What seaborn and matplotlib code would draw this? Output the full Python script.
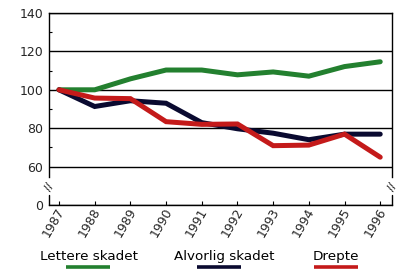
import matplotlib
matplotlib.use("Agg")
import matplotlib.pyplot as plt
import matplotlib.transforms as mtransforms
from matplotlib.lines import Line2D
import seaborn as sns
import pandas as pd

years = [1987, 1988, 1989, 1990, 1991, 1992, 1993, 1994, 1995, 1996]
lettere = [100, 100, 105.7, 110.3, 110.3, 107.8, 109.3, 107.1, 112.1, 114.6]
alvorlig = [100, 91.3, 94.3, 93.0, 82.9, 79.7, 77.4, 74.0, 76.9, 76.9]
drepte = [100, 95.7, 95.4, 83.4, 82.0, 82.2, 70.9, 71.2, 76.9, 64.9]
series_names = ["Lettere skadet", "Alvorlig skadet", "Drepte"]
colors = ["#23802f", "#0a0a30", "#c41a1a"]
yticks = [40, 60, 80, 100, 120, 140]
ytick_labels = ["0", "60", "80", "100", "120", "140"]
minor_yticks = [70, 90, 110, 130]

rows = []
for name, vals in zip(series_names, [lettere, alvorlig, drepte]):
    for i, (yr, v) in enumerate(zip(years, vals)):
        rows.append({"pos": i, "year": yr, "value": v, "series": name})
df = pd.DataFrame(rows)

sns.set_style("white")
plt.rcParams["font.family"] = ["DejaVu Sans"]

fig = plt.figure(figsize=(4, 2.79), dpi=100)
ax = fig.add_axes([49 / 400, (279 - 205) / 279, 343 / 400, 192 / 279])

sns.lineplot(data=df, x="pos", y="value", hue="series", hue_order=series_names,
             palette=colors, linewidth=3.6, legend=False, ax=ax,
             solid_joinstyle="miter")

ax.set_xlim(-0.28, 9.33)
ax.set_ylim(40, 140)
ax.set_xlabel("")
ax.set_ylabel("")

ax.set_yticks(yticks)
ax.set_yticklabels(ytick_labels, fontsize=9)
ax.set_yticks(minor_yticks, minor=True)
ax.tick_params(axis="y", which="major", length=0, pad=4)
ax.tick_params(axis="y", which="minor", direction="in", length=2.3, width=0.8,
               color="black", left=True)
ax.yaxis.grid(True, which="major", color="black", linewidth=1.0)
ax.set_axisbelow(True)

ax.set_xticks(range(len(years)))
ax.set_xticklabels([str(y) for y in years], fontsize=9, rotation=60,
                   ha="right", va="center", rotation_mode="anchor")
ax.tick_params(axis="x", which="major", direction="in", length=3, width=0.8,
               color="black", bottom=True, pad=3)
offset = mtransforms.ScaledTranslation(3 / 100, 0, fig.dpi_scale_trans)
for lbl in ax.get_xticklabels():
    lbl.set_transform(lbl.get_transform() + offset)

for side in ["left", "right", "bottom", "top"]:
    ax.spines[side].set_color("black")
    ax.spines[side].set_linewidth(1.0)
    ax.spines[side].set_visible(True)
ax.spines["left"].set_bounds(54.5, 140)
ax.spines["right"].set_bounds(54.5, 140)
xl = ax.get_xlim()
for xx in xl:
    ax.plot([xx, xx], [40, 45.2], color="black", linewidth=1.0, clip_on=False)
    ax.text(xx, 49.5, "//", ha="center", va="center", rotation=60, fontsize=7.5,
            color="black", clip_on=False)

# legend below
legend_centers = [89, 224, 336]
legend_lines = [(66, 110), (197, 241), (314, 358)]
for name, col, cx, (x0, x1) in zip(series_names, colors, legend_centers, legend_lines):
    fig.text(cx / 400, 1 - 260 / 279, name, ha="center", va="baseline",
             fontsize=9.7, color="black")
    fig.add_artist(Line2D([x0 / 400, x1 / 400], [1 - 266.7 / 279] * 2,
                          color=col, linewidth=2.6, solid_capstyle="butt",
                          transform=fig.transFigure))

fig.savefig("out.png", dpi=100)
